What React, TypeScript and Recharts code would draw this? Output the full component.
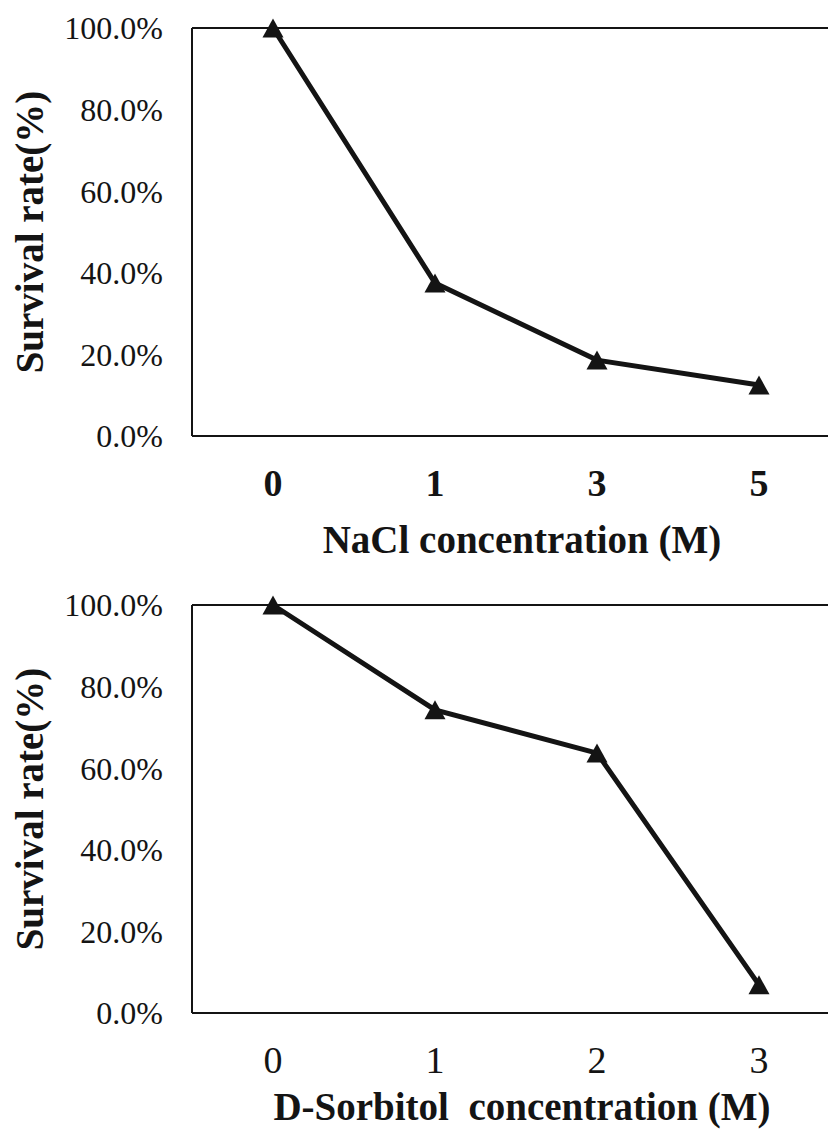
import { LineChart, Line, XAxis, YAxis, ReferenceLine } from "recharts";

const naclLevels = ["0", "1", "3", "5"];
const naclSurvival = [1.0, 0.375, 0.186, 0.125];

const sorbitolLevels = ["0", "1", "2", "3"];
const sorbitolSurvival = [1.0, 0.743, 0.637, 0.069];

const yTicks = [0, 0.2, 0.4, 0.6, 0.8, 1.0];

const FONT = "Liberation Serif, DejaVu Serif, serif";
const INK = "#141414";

const Triangle = (props: any) => {
  const { cx, cy } = props;
  if (cx == null || cy == null) return null;
  const w = 21;
  const h = 19;
  return (
    <polygon
      points={`${cx},${cy - h / 2} ${cx - w / 2},${cy + h / 2} ${cx + w / 2},${cy + h / 2}`}
      fill={INK}
    />
  );
};

interface PanelProps {
  levels: string[];
  values: number[];
  xTitle: string;
  boldTicks: boolean;
  height: number;
  xAxisHeight: number;
  titleOffset: number;
}

function Panel({ levels, values, xTitle, boldTicks, height, xAxisHeight, titleOffset }: PanelProps) {
  const data = levels.map((level, i) => ({ level, survival: values[i] }));
  return (
    <LineChart
      width={840}
      height={height}
      data={data}
      margin={{ top: 28, right: 0, bottom: 0, left: 0 }}
      style={{ fontFamily: FONT }}
    >
      <XAxis
        dataKey="level"
        height={xAxisHeight}
        padding={{ left: 81, right: 81 }}
        tickLine={false}
        tickSize={0}
        tickMargin={33}
        axisLine={{ stroke: INK, strokeWidth: 2 }}
        tick={{ fontSize: 38, fill: INK, fontWeight: boldTicks ? 700 : 400, style: { fontFamily: FONT } }}
        label={{
          content: (p: any) => {
            const vb = p.viewBox;
            return (
              <text
                x={vb.x + vb.width / 2 + 6}
                y={vb.y + titleOffset}
                textAnchor="middle"
                fontSize={39}
                fontWeight={700}
                fill={INK}
                style={{ fontFamily: FONT, whiteSpace: "pre" }}
              >
                {xTitle}
              </text>
            );
          },
        }}
      />
      <YAxis
        width={192}
        domain={[0, 1]}
        ticks={yTicks}
        interval={0}
        tickFormatter={(v: number) => `${(v * 100).toFixed(1)}%`}
        tickLine={false}
        tickSize={0}
        tickMargin={29}
        axisLine={{ stroke: INK, strokeWidth: 2 }}
        tick={{ fontSize: 32, fill: INK, style: { fontFamily: FONT } }}
        label={{
          content: (p: any) => {
            const vb = p.viewBox;
            const cy = vb.y + vb.height / 2;
            return (
              <text
                transform={`translate(29, ${cy}) rotate(-90)`}
                textAnchor="middle"
                dominantBaseline="central"
                fontSize={39}
                fontWeight={700}
                fill={INK}
                style={{ fontFamily: FONT }}
              >
                Survival rate(%)
              </text>
            );
          },
        }}
      />
      <ReferenceLine y={1} stroke={INK} strokeWidth={2} />
      <Line
        dataKey="survival"
        stroke={INK}
        strokeWidth={5}
        dot={<Triangle />}
        activeDot={false}
        isAnimationActive={false}
      />
    </LineChart>
  );
}

export default function App() {
  return (
    <div
      style={{
        position: "absolute",
        left: 0,
        top: 0,
        width: 828,
        height: 1132,
        overflow: "hidden",
        background: "#fff",
        fontFamily: FONT,
      }}
    >
      <Panel
        levels={naclLevels}
        values={naclSurvival}
        xTitle="NaCl concentration (M)"
        boldTicks={true}
        height={577}
        xAxisHeight={141}
        titleOffset={117}
      />
      <Panel
        levels={sorbitolLevels}
        values={sorbitolSurvival}
        xTitle="D-Sorbitol  concentration (M)"
        boldTicks={false}
        height={555}
        xAxisHeight={119}
        titleOffset={107}
      />
    </div>
  );
}
